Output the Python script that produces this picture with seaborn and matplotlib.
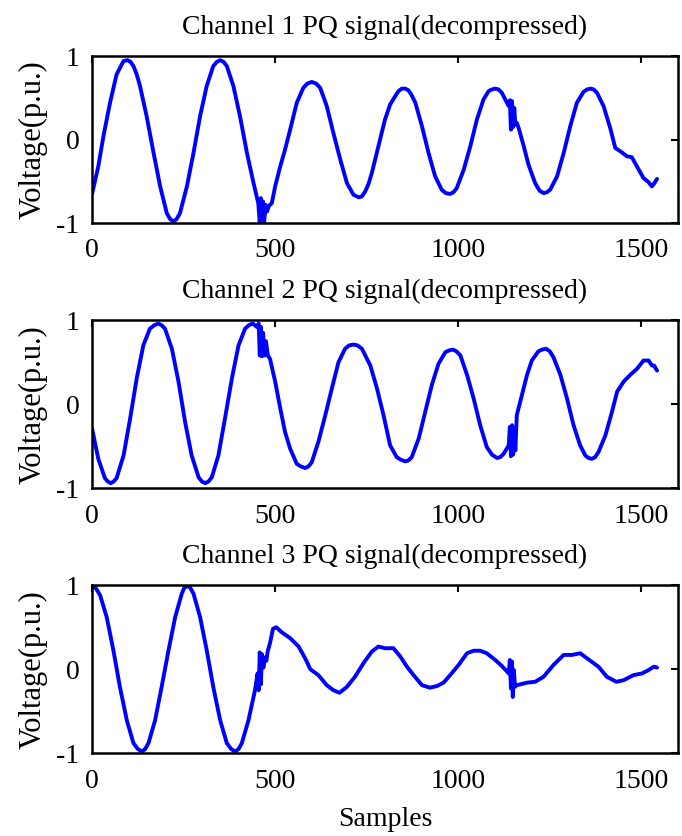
import numpy as np
import pandas as pd
import matplotlib
matplotlib.use("Agg")
import matplotlib.pyplot as plt
import seaborn as sns

# ---------------- data ----------------
ch1_x = [0, 17, 31, 49, 67, 86, 97, 105, 113, 122, 131, 149, 168, 186, 204, 213, 222, 231, 240, 259,
         277, 295, 313, 331, 341, 350, 359, 368, 386, 404, 423, 441, 454, 458, 461, 464, 467, 470, 474,
         478, 482, 486, 491, 500, 514, 527, 541, 559, 577, 588, 600, 612, 623, 641, 659, 678, 696, 714,
         728, 737, 746, 755, 764, 782, 800, 814, 828, 837, 846, 855, 864, 873, 883, 901, 919, 937, 955,
         966, 978, 987, 996, 1015, 1033, 1051, 1069, 1083, 1092, 1101, 1110, 1119, 1138, 1141, 1144,
         1147, 1150, 1153, 1156, 1160, 1165, 1179, 1192, 1210, 1222, 1233, 1242, 1251, 1270, 1288, 1306,
         1324, 1342, 1352, 1361, 1370, 1379, 1397, 1415, 1429, 1443, 1461, 1474, 1488, 1506, 1520, 1529,
         1536, 1543]
ch1_y = [-0.65, -0.32, 0.04, 0.44, 0.78, 0.94, 0.95, 0.93, 0.88, 0.78, 0.64, 0.28, -0.16, -0.56, -0.88,
         -0.95, -0.98, -0.95, -0.88, -0.56, -0.16, 0.28, 0.64, 0.88, 0.93, 0.95, 0.93, 0.88, 0.64, 0.28,
         -0.16, -0.52, -0.76, -1.0, -0.7, -1.0, -0.74, -0.98, -0.78, -0.86, -0.8, -0.78, -0.76, -0.56,
         -0.32, -0.12, 0.12, 0.44, 0.62, 0.67, 0.69, 0.67, 0.62, 0.40, 0.08, -0.24, -0.52, -0.66, -0.69,
         -0.68, -0.62, -0.53, -0.40, -0.08, 0.24, 0.42, 0.52, 0.58, 0.61, 0.61, 0.59, 0.53, 0.44, 0.16,
         -0.16, -0.44, -0.60, -0.64, -0.65, -0.63, -0.58, -0.36, -0.08, 0.24, 0.48, 0.58, 0.60, 0.61,
         0.60, 0.56, 0.40, 0.47, 0.12, 0.46, 0.15, 0.38, 0.18, 0.20, 0.14, -0.08, -0.30, -0.52, -0.61,
         -0.64, -0.63, -0.60, -0.44, -0.16, 0.16, 0.44, 0.57, 0.60, 0.61, 0.60, 0.56, 0.40, 0.14, -0.10,
         -0.14, -0.20, -0.21, -0.32, -0.46, -0.51, -0.56, -0.52, -0.47]

ch2_x = [0, 17, 35, 43, 51, 59, 67, 86, 104, 122, 140, 158, 170, 181, 190, 199, 218, 236, 254, 272,
         291, 300, 309, 318, 327, 345, 363, 382, 400, 418, 428, 439, 450, 455, 458, 461, 464, 467, 471,
         475, 480, 486, 500, 514, 527, 541, 559, 570, 582, 591, 600, 618, 637, 655, 673, 691, 702, 714,
         725, 737, 760, 778, 796, 814, 832, 843, 855, 864, 873, 892, 910, 928, 946, 965, 975, 985, 995,
         1006, 1024, 1042, 1060, 1078, 1092, 1106, 1115, 1124, 1138, 1141, 1144, 1147, 1150, 1153, 1156,
         1160, 1174, 1188, 1201, 1219, 1229, 1240, 1250, 1260, 1279, 1297, 1315, 1333, 1347, 1356, 1365,
         1374, 1383, 1402, 1420, 1434, 1452, 1470, 1488, 1506, 1520, 1529, 1535, 1543]
ch2_y = [-0.29, -0.65, -0.88, -0.92, -0.94, -0.92, -0.88, -0.61, -0.17, 0.31, 0.70, 0.90, 0.94, 0.96,
         0.94, 0.90, 0.66, 0.27, -0.21, -0.61, -0.87, -0.92, -0.94, -0.92, -0.87, -0.61, -0.17, 0.31,
         0.70, 0.90, 0.94, 0.96, 0.92, 0.96, 0.58, 0.92, 0.57, 0.85, 0.58, 0.75, 0.58, 0.54, 0.27, -0.05,
         -0.33, -0.53, -0.71, -0.74, -0.76, -0.74, -0.69, -0.45, -0.13, 0.19, 0.50, 0.66, 0.70, 0.71,
         0.70, 0.66, 0.46, 0.19, -0.13, -0.49, -0.63, -0.66, -0.68, -0.67, -0.63, -0.41, -0.09, 0.23,
         0.48, 0.62, 0.64, 0.65, 0.63, 0.58, 0.35, 0.07, -0.25, -0.51, -0.60, -0.64, -0.63, -0.59, -0.49,
         -0.27, -0.62, -0.25, -0.60, -0.28, -0.55, -0.13, 0.11, 0.35, 0.52, 0.63, 0.65, 0.66, 0.63, 0.56,
         0.35, 0.07, -0.25, -0.49, -0.61, -0.64, -0.65, -0.63, -0.57, -0.37, -0.09, 0.15, 0.27, 0.35,
         0.42, 0.52, 0.52, 0.46, 0.46, 0.40]

ch3_x = [0, 11, 22, 40, 58, 76, 95, 113, 125, 136, 145, 154, 172, 190, 209, 227, 245, 252, 260, 268,
         277, 295, 313, 331, 350, 368, 380, 391, 400, 409, 427, 445, 452, 455, 458, 461, 464, 468, 472,
         476, 480, 486, 494, 503, 518, 541, 564, 582, 596, 618, 641, 659, 676, 696, 718, 741, 764, 782,
         800, 823, 842, 860, 878, 901, 923, 942, 960, 978, 1001, 1024, 1042, 1060, 1078, 1101, 1119,
         1138, 1141, 1144, 1147, 1149, 1152, 1155, 1160, 1188, 1210, 1233, 1260, 1288, 1311, 1333, 1361,
         1383, 1406, 1432, 1452, 1479, 1502, 1520, 1534, 1543]
ch3_y = [0.99, 0.96, 0.88, 0.62, 0.23, -0.21, -0.61, -0.88, -0.95, -0.98, -0.95, -0.88, -0.61, -0.21,
         0.23, 0.62, 0.90, 0.97, 0.99, 0.97, 0.90, 0.62, 0.23, -0.21, -0.61, -0.88, -0.95, -0.98, -0.95,
         -0.88, -0.61, -0.25, -0.05, -0.25, 0.20, -0.18, 0.18, 0.02, 0.14, 0.10, 0.22, 0.31, 0.48, 0.50,
         0.44, 0.37, 0.27, 0.13, 0.0, -0.07, -0.19, -0.25, -0.28, -0.21, -0.09, 0.07, 0.21, 0.27, 0.25,
         0.25, 0.15, 0.03, -0.07, -0.19, -0.22, -0.20, -0.16, -0.07, 0.05, 0.19, 0.22, 0.22, 0.19, 0.11,
         0.04, -0.05, 0.11, -0.23, 0.09, -0.33, -0.01, -0.21, -0.19, -0.16, -0.15, -0.09, 0.05, 0.17,
         0.17, 0.19, 0.10, 0.03, -0.09, -0.15, -0.13, -0.07, -0.05, -0.01, 0.03, 0.02]

titles = ["Channel 1 PQ signal(decompressed)",
          "Channel 2 PQ signal(decompressed)",
          "Channel 3 PQ signal(decompressed)"]
x_ticks = [0, 500, 1000, 1500]
y_ticks = [-1, 0, 1]
y_ticklabels = ["-1", "0", "1"]
ylabel = "Voltage(p.u.)"
xlabel = "Samples"

# ---------------- plotting ----------------
sns.set_style("white")
plt.rcParams["font.family"] = ["Liberation Serif", "DejaVu Serif"]
plt.rcParams["text.color"] = "black"
plt.rcParams["axes.labelcolor"] = "black"
plt.rcParams["xtick.color"] = "black"
plt.rcParams["ytick.color"] = "black"

fig = plt.figure(figsize=(6.82, 8.36), dpi=100)
positions = [(0.135, 0.733, 0.859, 0.200),
             (0.135, 0.416, 0.859, 0.201),
             (0.135, 0.099, 0.859, 0.201)]
series = [(ch1_x, ch1_y), (ch2_x, ch2_y), (ch3_x, ch3_y)]
FS = 20
FS_Y = 22

for i, (pos, (xs, ys)) in enumerate(zip(positions, series)):
    ax = fig.add_axes(pos)
    df = pd.DataFrame({"Samples": xs, "Voltage": ys})
    sns.lineplot(data=df, x="Samples", y="Voltage", ax=ax, color="#0000ff",
                 linewidth=2.8, sort=False, estimator=None)
    ax.set_xlim(0, 1600)
    ax.set_ylim(-1, 1)
    ax.set_xticks(x_ticks)
    ax.set_xticklabels([str(t) for t in x_ticks], fontsize=FS)
    ax.set_yticks(y_ticks)
    ax.set_yticklabels(y_ticklabels, fontsize=FS)
    ax.tick_params(axis="x", direction="in", length=5, width=1.5, top=True,
                   pad=11, colors="black")
    ax.tick_params(axis="y", direction="in", length=5, width=1.5, right=True,
                   pad=9, colors="black")
    for s in ax.spines.values():
        s.set_linewidth(1.8)
        s.set_color("black")
    ax.set_title(titles[i], fontsize=FS, pad=16, color="black")
    ax.set_ylabel(ylabel, fontsize=FS_Y, labelpad=6)
    if i == 2:
        ax.set_xlabel(xlabel, fontsize=FS, labelpad=10)
    else:
        ax.set_xlabel("")

fig.savefig("out.png", dpi=100)
